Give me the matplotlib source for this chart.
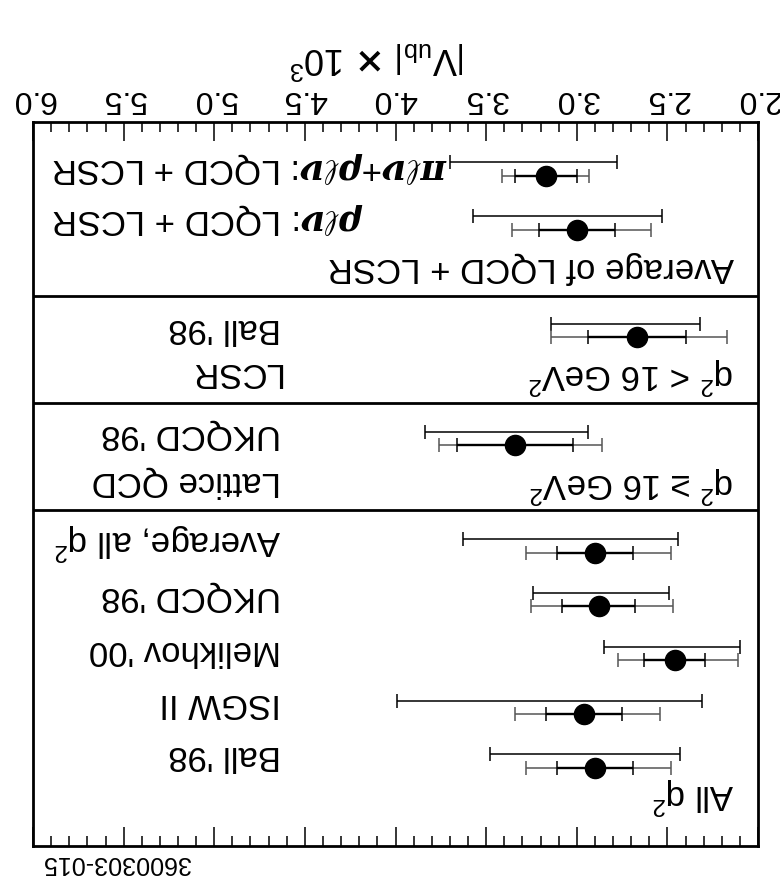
import matplotlib
matplotlib.use('Agg')
import matplotlib.pyplot as plt
from matplotlib.ticker import MultipleLocator, FormatStrFormatter

plt.rcParams['font.family'] = ['Liberation Sans', 'DejaVu Sans']
plt.rcParams['mathtext.fontset'] = 'custom'
plt.rcParams['mathtext.rm'] = 'Liberation Sans'
plt.rcParams['mathtext.it'] = 'Liberation Sans:italic'
plt.rcParams['mathtext.bf'] = 'DejaVu Serif:italic:bold'

# ---------------- data (|Vub| x 10^3) ----------------
entry_names = ["pi+rho: LQCD+LCSR", "rho: LQCD+LCSR", "Ball '98 (q2<16)",
               "UKQCD '98 (q2>=16)", "Average, all q2", "UKQCD '98",
               "Melikhov '00", "ISGW II", "Ball '98"]
entry_rows = [0, 1, 3, 5, 7, 8, 9, 10, 11]
central = [3.17, 3.00, 2.67, 3.34, 2.90, 2.88, 2.46, 2.96, 2.90]
stat_lo = [3.00, 2.79, 2.40, 3.02, 2.69, 2.68, 2.29, 2.75, 2.69]
stat_hi = [3.34, 3.21, 2.94, 3.66, 3.11, 3.08, 2.63, 3.17, 3.11]
tot_lo = [2.93, 2.59, 2.17, 2.86, 2.48, 2.47, 2.11, 2.54, 2.48]
tot_hi = [3.41, 3.36, 3.14, 3.76, 3.28, 3.25, 2.77, 3.34, 3.28]
theo_lo = [2.78, 2.53, 2.32, 2.94, 2.44, 2.49, 2.10, 2.31, 2.43]
theo_hi = [3.70, 3.57, 3.14, 3.84, 3.63, 3.24, 2.85, 3.99, 3.48]

model_labels = ["Ball '98", "LCSR", "UKQCD '98", "Lattice QCD",
                "Average, all q$^2$", "UKQCD '98", "Melikhov '00",
                "ISGW II", "Ball '98"]
model_label_rows = [2.83, 3.66, 4.82, 5.68, 6.80, 7.82, 8.81, 9.80, 10.76]

group_labels = ["Average of LQCD + LCSR", "q$^2$ < 16 GeV$^2$",
                "q$^2$ \u2265 16 GeV$^2$", "All q$^2$"]
group_label_rows = [1.71, 3.72, 5.74, 11.52]

combo_labels = [r"$\mathbf{\pi\ell\nu}$+$\mathbf{\rho\ell\nu}$: LQCD + LCSR",
                r"$\mathbf{\rho\ell\nu}$: LQCD + LCSR"]
combo_label_rows = [-0.16, 0.80]

dividers = [2.23, 4.22, 6.21]

# ---------------- figure ----------------
W, H = 780, 883
fig = plt.figure(figsize=(W / 100, H / 100), dpi=100)
ax = fig.add_axes([33 / W, 1 - 846 / H, (758 - 33) / W, (846 - 122) / H])

ax.set_xlim(6.0, 2.0)
ax.set_ylim(12.45, -1.0)

for s in ax.spines.values():
    s.set_linewidth(2.0)

ax.xaxis.set_major_locator(MultipleLocator(0.5))
ax.xaxis.set_minor_locator(MultipleLocator(0.1))
ax.xaxis.set_major_formatter(FormatStrFormatter('%.1f'))
ax.tick_params(axis='x', which='both', direction='in', top=True, bottom=True,
               labeltop=True, labelbottom=False, labelrotation=180,
               labelsize=23, pad=6)
ax.tick_params(axis='x', which='major', length=14, width=1.1)
ax.tick_params(axis='x', which='minor', length=7, width=1.1)
ax.set_yticks([])

for d in dividers:
    ax.axhline(d, color='black', lw=2.0)

cap = 5
for i in range(len(central)):
    r = entry_rows[i]
    c = central[i]
    # theory uncertainty (separate line)
    ax.errorbar(c, r - 0.25, xerr=[[c - theo_lo[i]], [theo_hi[i] - c]],
                fmt='none', ecolor='black', elinewidth=1.1, capsize=cap,
                capthick=1.1)
    # total experimental (stat+sys)
    ax.errorbar(c, r, xerr=[[c - tot_lo[i]], [tot_hi[i] - c]],
                fmt='none', ecolor='#555555', elinewidth=1.1, capsize=cap,
                capthick=1.1)
    # statistical
    ax.errorbar(c, r, xerr=[[c - stat_lo[i]], [stat_hi[i] - c]],
                fmt='none', ecolor='black', elinewidth=1.7, capsize=cap,
                capthick=1.1)
    ax.plot(c, r, 'o', ms=14.5, color='black', zorder=5)

x_model = 4.63
for t, r in zip(model_labels, model_label_rows):
    ax.text(x_model, r, t, rotation=180, ha='right', va='center', fontsize=25)

x_group = 2.13
for t, r in zip(group_labels, group_label_rows):
    ax.text(x_group, r, t, rotation=180, ha='right', va='center', fontsize=25)

x_combo = 5.895
for t, r in zip(combo_labels, combo_label_rows):
    ax.text(x_combo, r, t, rotation=180, ha='left', va='center', fontsize=25)

fig.text(378 / W, 1 - 60 / H,
         r"$\left|\mathrm{V}_{\mathrm{ub}}\right|$ $\mathbf{\times}$ 10$^{3}$",
         rotation=180, ha='center', va='center', fontsize=26)
fig.text(116 / W, 1 - 863 / H, "3600303-015", rotation=180, ha='center',
         va='center', fontsize=18)

fig.savefig('out.png', dpi=100)
